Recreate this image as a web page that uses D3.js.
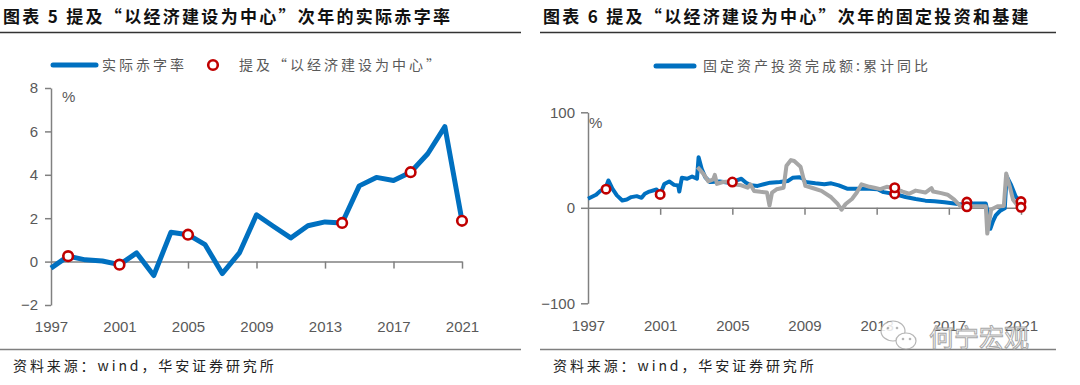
<!DOCTYPE html>
<html>
<head>
<meta charset="utf-8">
<script src="https://cdn.jsdelivr.net/npm/d3@7"></script>
<style>
  body { margin: 0; background: #fff; }
  svg { display: block; }
  .cjk { font-family: "Noto Sans CJK SC", sans-serif; }
  .num { font-family: "Liberation Sans", Arial, sans-serif; font-size: 15px; fill: #595959; }
</style>
</head>
<body>
<div id="chart"></div>
<script>
// ---- data: 图表5 实际赤字率 (%) ----
const deficitYears = d3.range(1997, 2022);
const deficitValues = [-0.3, 0.25, 0.08, 0.03, -0.14, 0.4, -0.64, 1.35, 1.24, 0.78, -0.55, 0.4,
    2.16, 1.62, 1.09, 1.65, 1.83, 1.78, 3.49, 3.88, 3.74, 4.12, 4.97, 6.22, 1.88];
const mentionYears = [1998, 2001, 2005, 2014, 2018, 2021];

// ---- data: 图表6 固定资产投资完成额:累计同比 (%) ----
const faiDates = [1997.0, 1997.45, 1997.7, 1997.95, 1998.13, 1998.35, 1998.6, 1998.9, 1999.15, 1999.4,
    1999.7, 1999.97, 2000.15, 2000.4, 2000.8, 2001.0, 2001.23, 2001.5, 2001.77, 2002.0, 2002.06, 2002.2,
    2002.5, 2002.77, 2003.04, 2003.13, 2003.3, 2003.5, 2003.76, 2004.3, 2004.93, 2005.23, 2005.5, 2005.76,
    2006.03, 2006.4, 2006.74, 2007.1, 2007.63, 2008.07, 2008.34, 2008.7, 2008.9, 2009.05, 2009.6, 2010.1,
    2010.48, 2010.9, 2011.36, 2011.9, 2012.6, 2013.05, 2013.38, 2014.0, 2014.6, 2015.16, 2015.7, 2016.2,
    2016.76, 2017.3, 2017.7, 2018.0, 2018.38, 2019.05, 2019.18, 2019.3, 2019.45, 2019.6, 2019.85, 2020.1,
    2020.2, 2020.45, 2020.7, 2020.95];
const faiValues = [9.4, 13.6, 18, 19.5, 28.6, 20, 13, 7.7, 8.7, 11.2,
    12.2, 10.5, 14.7, 17, 19.2, 14, 25, 27.6, 24, 23.4, 17, 31.4,
    30.4, 32.8, 30.4, 53, 40.8, 32, 27, 27.6, 26, 28.7, 30.4, 26.3,
    23.5, 22.9, 24.6, 26.3, 27, 28, 31.4, 32, 30.7, 27, 25.6, 24.6,
    25.6, 23.5, 20, 20, 20, 19.4, 16.4, 14.5, 11.3, 9.2, 7.5, 6.8,
    5.8, 4.4, 3.4, 5.8, 4.4, 4.4, -8, -22, -14, -8, -3, -0.5,
    33, 24, 12, 6.5];
// 基建投资累计同比 (%)
const infraDates = [2003.07, 2003.4, 2003.67, 2003.94, 2004.03, 2004.15, 2004.48, 2004.84, 2005.05, 2005.5,
    2005.85, 2006.0, 2006.2, 2006.56, 2006.92, 2007.06, 2007.2, 2007.45, 2007.84, 2008.0, 2008.25, 2008.43,
    2008.78, 2009.05, 2009.4, 2009.94, 2010.48, 2010.84, 2011.05, 2011.28, 2011.63, 2011.9, 2012.16, 2012.6,
    2012.87, 2013.2, 2013.56, 2014.0, 2014.44, 2014.8, 2015.16, 2015.7, 2016.04, 2016.13, 2016.58, 2016.93,
    2017.3, 2017.64, 2017.9, 2018.2, 2018.7, 2019.05, 2019.13, 2019.35, 2019.7, 2020.05, 2020.18, 2020.38,
    2020.56, 2020.84, 2021.0];
const infraValues = [42.6, 35.6, 27.6, 29.7, 34.5, 25, 27, 27.6, 24.6, 23.5,
    21, 24.6, 17.7, 16.7, 16, 2.4, 16, 19.4, 21, 44, 50, 49,
    43, 22.9, 21, 17.7, 11, 4, -2, 4, 9.2, 16, 24.6, 22,
    21, 19.5, 22, 20.5, 17, 14.7, 18, 16, 20.5, 17, 15.4, 13.7,
    8.5, 1.7, -1, 1.5, 1.5, 1.5, -27, -1.7, 1.7, 2, 36, 22,
    8.5, 1.7, 0.5];
const faiMarks = [19.5, 14, 27, 14.5, 6, 6.5];
const infraMarkYears = [2014, 2018, 2021];
const infraMarks = [21, 1, 0.5];

const xTicks = [1997, 2001, 2005, 2009, 2013, 2017, 2021];

const BLUE = "#0070C0", GRAY = "#A6A6A6", RED = "#C00000", AXIS = "#808080";

const svg = d3.select("#chart").append("svg")
    .attr("width", 1080)
    .attr("height", 385);

svg.append("rect").attr("width", 1080).attr("height", 385).attr("fill", "#fff");

// titles and rules
const titles = [
    { x: 3, text: "图表 5 提及“以经济建设为中心”次年的实际赤字率" },
    { x: 543, text: "图表 6 提及“以经济建设为中心”次年的固定投资和基建" }
];
titles.forEach(t => {
    svg.append("text")
        .attr("class", "cjk")
        .attr("x", t.x).attr("y", 23)
        .style("font-size", "17px")
        .style("font-weight", "bold")
        .style("letter-spacing", "2.3px")
        .attr("fill", "#111")
        .text(t.text);
});
[[0, 521], [540, 1056]].forEach(([a, b]) => {
    svg.append("line").attr("x1", a).attr("x2", b).attr("y1", 32.5).attr("y2", 32.5)
        .attr("stroke", "#333").attr("stroke-width", 1.5);
    svg.append("line").attr("x1", a).attr("x2", b).attr("y1", 349.5).attr("y2", 349.5)
        .attr("stroke", "#7f7f7f").attr("stroke-width", 1.5);
    svg.append("text")
        .attr("class", "cjk")
        .attr("x", a + 13).attr("y", 371)
        .style("font-size", "14px")
        .style("letter-spacing", "2.9px")
        .attr("fill", "#222")
        .text("资料来源：wind，华安证券研究所");
});

function marker(g, cx, cy, r) {
    g.append("circle")
        .attr("cx", cx).attr("cy", cy).attr("r", r)
        .attr("fill", "#fff")
        .attr("stroke", RED)
        .attr("stroke-width", 2.6);
}

function styleAxis(g) {
    g.selectAll("path, line").attr("stroke", AXIS).attr("stroke-width", 1.5);
    g.selectAll("text").attr("class", "num").attr("font-family", null).attr("font-size", null);
}

// ================= 图表5 =================
const xL = d3.scaleLinear().domain([1997, 2021]).range([51, 462]);
const yL = d3.scaleLinear().domain([-2, 8]).range([305, 88]);

const left = svg.append("g");

const yAxisL = left.append("g")
    .attr("transform", `translate(${xL(1997)},0)`)
    .call(d3.axisLeft(yL).tickValues([-2, 0, 2, 4, 6, 8]).tickSize(6).tickPadding(7).tickSizeOuter(0));
styleAxis(yAxisL);

const xAxisL = left.append("g")
    .attr("transform", `translate(0,${yL(0)})`)
    .call(d3.axisBottom(xL).tickValues(xTicks).tickFormat(d3.format("d")).tickSize(7).tickSizeOuter(0));
styleAxis(xAxisL);
xAxisL.selectAll("text").attr("y", 327 - yL(0)).attr("dy", "0.35em");
xAxisL.selectAll(".tick").filter(d => d === 1997).select("line").remove();

left.append("text").attr("class", "num").attr("x", 62).attr("y", 102).text("%");

left.append("path")
    .datum(deficitYears.map((y, i) => [y, deficitValues[i]]))
    .attr("fill", "none")
    .attr("stroke", BLUE)
    .attr("stroke-width", 5)
    .attr("stroke-linejoin", "round")
    .attr("d", d3.line().x(d => xL(d[0])).y(d => yL(d[1])));

mentionYears.forEach(y => {
    marker(left, xL(y), yL(deficitValues[deficitYears.indexOf(y)]), 4.8);
});

// legend
left.append("line").attr("x1", 53).attr("x2", 96).attr("y1", 65).attr("y2", 65)
    .attr("stroke", BLUE).attr("stroke-width", 5).attr("stroke-linecap", "round");
left.append("text").attr("class", "cjk").attr("x", 102).attr("y", 70)
    .style("font-size", "14px").style("letter-spacing", "3px").attr("fill", "#595959")
    .text("实际赤字率");
marker(left, 213, 65, 4.8);
left.append("text").attr("class", "cjk").attr("x", 239).attr("y", 70)
    .style("font-size", "14px").style("letter-spacing", "3px").attr("fill", "#595959")
    .text("提及“以经济建设为中心”");

// ================= 图表6 =================
const xR = d3.scaleLinear().domain([1997, 2021]).range([588, 1021]);
const yR = d3.scaleLinear().domain([-100, 100]).range([303.3, 112.3]);

const right = svg.append("g");

const yAxisR = right.append("g")
    .attr("transform", `translate(${xR(1997)},0)`)
    .call(d3.axisLeft(yR).tickValues([-100, 0, 100]).tickSize(7).tickPadding(6).tickSizeOuter(0));
styleAxis(yAxisR);

const xAxisR = right.append("g")
    .attr("transform", `translate(0,${yR(0)})`)
    .call(d3.axisBottom(xR).tickValues(xTicks).tickFormat(d3.format("d")).tickSize(7).tickSizeOuter(0));
styleAxis(xAxisR);
xAxisR.selectAll("text").attr("y", 326 - yR(0)).attr("dy", "0.35em");
xAxisR.selectAll(".tick").filter(d => d === 1997).select("line").remove();

right.append("text").attr("class", "num").attr("x", 589).attr("y", 128).text("%");

const lineR = d3.line().x(d => xR(d[0])).y(d => yR(d[1]));

right.append("path")
    .datum(faiDates.map((t, i) => [t, faiValues[i]]))
    .attr("fill", "none")
    .attr("stroke", BLUE)
    .attr("stroke-width", 4)
    .attr("stroke-linejoin", "round")
    .attr("d", lineR);

right.append("path")
    .datum(infraDates.map((t, i) => [t, infraValues[i]]))
    .attr("fill", "none")
    .attr("stroke", GRAY)
    .attr("stroke-width", 4)
    .attr("stroke-linejoin", "round")
    .attr("d", lineR);

mentionYears.forEach((y, i) => marker(right, xR(y), yR(faiMarks[i]), 4.2));
infraMarkYears.forEach((y, i) => marker(right, xR(y), yR(infraMarks[i]), 4.2));

// legend
right.append("line").attr("x1", 656).attr("x2", 694).attr("y1", 66).attr("y2", 66)
    .attr("stroke", BLUE).attr("stroke-width", 5).attr("stroke-linecap", "round");
right.append("text").attr("class", "cjk").attr("x", 703).attr("y", 71)
    .style("font-size", "14px").style("letter-spacing", "3px").attr("fill", "#595959")
    .text("固定资产投资完成额:累计同比");

// watermark (sits over the axis labels, as in the source image)
const wm = svg.append("g").attr("opacity", 0.85);
wm.append("ellipse").attr("cx", 893).attr("cy", 331).attr("rx", 12).attr("ry", 10)
    .attr("fill", "#fff").attr("stroke", "#aaa").attr("stroke-width", 1.2);
wm.append("ellipse").attr("cx", 906).attr("cy", 341).attr("rx", 10).attr("ry", 8)
    .attr("fill", "#fff").attr("stroke", "#aaa").attr("stroke-width", 1.2);
[[888, 328], [897, 328], [903, 339], [910, 339]].forEach(([cx, cy]) => {
    wm.append("circle").attr("cx", cx).attr("cy", cy).attr("r", 1.3).attr("fill", "#aaa");
});
wm.append("text").attr("class", "cjk").attr("x", 929).attr("y", 347)
    .style("font-size", "25px")
    .attr("fill", "#fff").attr("stroke", "#999").attr("stroke-width", 1)
    .text("何宁宏观");
</script>
</body>
</html>
